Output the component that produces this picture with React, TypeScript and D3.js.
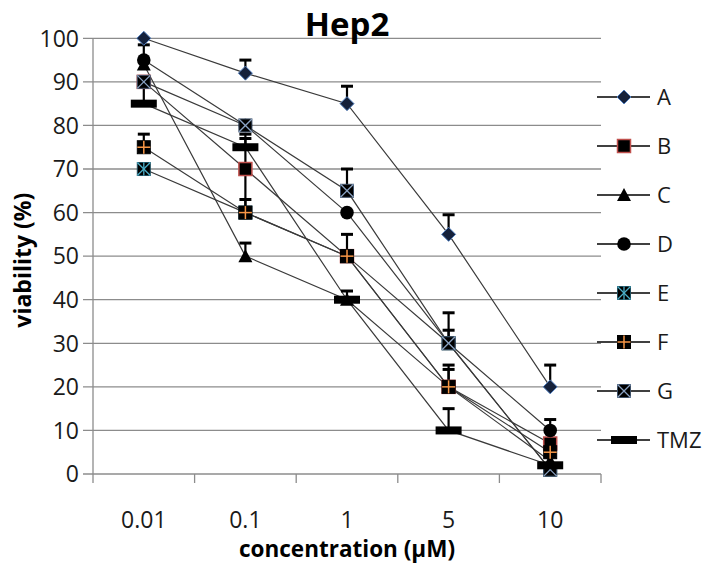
import React from "react";
import * as d3 from "d3";

const categories = ["0.01", "0.1", "1", "5", "10"];
const seriesNames = ["A", "B", "C", "D", "E", "F", "G", "TMZ"];

const valuesA = [100, 92, 85, 55, 20];
const valuesB = [90, 70, 50, 20, 7];
const valuesC = [94, 50, 40, 20, 3];
const valuesD = [95, 80, 60, 30, 10];
const valuesE = [70, 60, 50, 30, 1];
const valuesF = [75, 60, 50, 20, 5];
const valuesG = [90, 80, 65, 30, 1];
const valuesTMZ = [85, 75, 40, 10, 2];

const errA = [0, 3, 4, 4.5, 5];
const errB = [0, 7, 0, 4, 0];
const errC = [0, 3, 0, 0, 0];
const errD = [3.5, 0, 0, 3, 2.5];
const errE = [0, 3, 0, 0, 0];
const errF = [3, 10, 5, 5, 0];
const errG = [0, 0, 5, 7, 0];
const errTMZ = [5, 3, 2, 5, 0];

const yTicks = [0, 10, 20, 30, 40, 50, 60, 70, 80, 90, 100];

const allValues = [valuesA, valuesB, valuesC, valuesD, valuesE, valuesF, valuesG, valuesTMZ];
const allErr = [errA, errB, errC, errD, errE, errF, errG, errTMZ];

const W = 706;
const H = 564;
const plotLeft = 93;
const plotRight = 601;
const plotTop = 38.3;
const plotBottom = 474;
const FONT = "'Open Sans', 'Noto Sans', sans-serif";

function Marker({ name, x, y }: { name: string; x: number; y: number }) {
  const s = 6.5;
  switch (name) {
    case "A":
      return (
        <path
          d={`M${x},${y - 7}L${x + 7},${y}L${x},${y + 7}L${x - 7},${y}Z`}
          fill="#15213b"
          stroke="#4f7dbd"
          strokeWidth={1}
        />
      );
    case "B":
      return <rect x={x - s} y={y - s} width={2 * s} height={2 * s} fill="#000" stroke="#c0504d" strokeWidth={1.5} />;
    case "C":
      return <path d={`M${x},${y - 7}L${x + 7},${y + 6}L${x - 7},${y + 6}Z`} fill="#000" />;
    case "D":
      return <circle cx={x} cy={y} r={6.8} fill="#000" />;
    case "E":
      return (
        <g>
          <rect x={x - s} y={y - s} width={2 * s} height={2 * s} fill="#000" stroke="#1f4f5f" strokeWidth={1} />
          <g stroke="#4bacc6" strokeWidth={1.3}>
            <line x1={x} y1={y - s} x2={x} y2={y + s} />
            <line x1={x - s} y1={y - s} x2={x + s} y2={y + s} />
            <line x1={x + s} y1={y - s} x2={x - s} y2={y + s} />
          </g>
        </g>
      );
    case "F":
      return (
        <g>
          <rect x={x - s} y={y - s} width={2 * s} height={2 * s} fill="#000" stroke="#000" strokeWidth={1} />
          <g stroke="#f79646" strokeWidth={1.5}>
            <line x1={x} y1={y - s} x2={x} y2={y + s} />
            <line x1={x - s} y1={y} x2={x + s} y2={y} />
          </g>
        </g>
      );
    case "G":
      return (
        <g>
          <rect x={x - s} y={y - s} width={2 * s} height={2 * s} fill="#000" stroke="#3d4f66" strokeWidth={1} />
          <g stroke="#8aa2c2" strokeWidth={1.3}>
            <line x1={x - s} y1={y - s} x2={x + s} y2={y + s} />
            <line x1={x + s} y1={y - s} x2={x - s} y2={y + s} />
          </g>
        </g>
      );
    default:
      return <rect x={x - 13} y={y - 4} width={26} height={8} fill="#000" />;
  }
}

export default function App() {
  const x = d3.scaleBand<string>().domain(categories).range([plotLeft, plotRight]).padding(0);
  const y = d3.scaleLinear().domain([0, 100]).range([plotBottom, plotTop]);
  const cx = (c: string) => (x(c) as number) + x.bandwidth() / 2;

  const line = d3
    .line<number>()
    .x((_, i) => cx(categories[i]))
    .y((v) => y(v));

  const boundaries = categories.map((c) => x(c) as number).concat([plotRight]);

  const legendTop = 97;
  const legendStep = 49;

  return (
    <svg
      width={W}
      height={H}
      style={{ position: "absolute", left: 0, top: 0, background: "#fff" }}
      fontFamily={FONT}
    >
      <rect x={0} y={0} width={W} height={H} fill="#fff" />
      {/* gridlines */}
      {yTicks.map((t) => (
        <line key={"g" + t} x1={plotLeft - 10} x2={plotRight} y1={y(t)} y2={y(t)} stroke="#8c8c8c" strokeWidth={1.3} />
      ))}
      {/* y axis */}
      <line x1={plotLeft} x2={plotLeft} y1={plotTop} y2={plotBottom} stroke="#8c8c8c" strokeWidth={1.3} />
      {/* x ticks */}
      {boundaries.map((b, i) => (
        <line key={"xt" + i} x1={b} x2={b} y1={plotBottom} y2={plotBottom + 9} stroke="#8c8c8c" strokeWidth={1.3} />
      ))}
      {/* y tick labels */}
      {yTicks.map((t) => (
        <text key={"yl" + t} x={79} y={y(t)} dy="0.36em" textAnchor="end" fontSize={23} fill="#1a1a1a">
          {t}
        </text>
      ))}
      {/* x tick labels */}
      {categories.map((c) => (
        <text key={"xl" + c} x={cx(c)} y={528} textAnchor="middle" fontSize={23} fill="#1a1a1a">
          {c}
        </text>
      ))}
      {/* series lines */}
      {allValues.map((vals, si) => (
        <path key={"l" + si} d={line(vals) || ""} fill="none" stroke="#3a3a3a" strokeWidth={1.2} />
      ))}
      {/* error bars */}
      {allValues.map((vals, si) =>
        vals.map((v, i) => {
          const e = allErr[si][i];
          if (!e) return null;
          const px = cx(categories[i]);
          return (
            <g key={"e" + si + "-" + i}>
              <line x1={px} x2={px} y1={y(v)} y2={y(v + e)} stroke="#000" strokeWidth={2.2} />
              <line x1={px - 6} x2={px + 6} y1={y(v + e)} y2={y(v + e)} stroke="#000" strokeWidth={3} />
            </g>
          );
        })
      )}
      {/* markers */}
      {allValues.map((vals, si) =>
        vals.map((v, i) => (
          <Marker key={"m" + si + "-" + i} name={seriesNames[si]} x={cx(categories[i])} y={y(v)} />
        ))
      )}
      {/* legend */}
      {seriesNames.map((n, i) => {
        const ly = legendTop + i * legendStep;
        return (
          <g key={"lg" + n}>
            <line x1={597} x2={650} y1={ly} y2={ly} stroke="#000" strokeWidth={1.3} />
            <Marker name={n} x={624} y={ly} />
            <text x={657} y={ly} dy="0.36em" fontSize={22} fill="#1a1a1a">
              {n}
            </text>
          </g>
        );
      })}
      {/* title */}
      <text x={(plotLeft + plotRight) / 2} y={36} textAnchor="middle" fontSize={33} fontWeight="bold" fill="#000">
        Hep2
      </text>
      {/* axis titles */}
      <text
        transform={`translate(31, ${(plotTop + plotBottom) / 2 + 4}) rotate(-90)`}
        textAnchor="middle"
        fontSize={23}
        fontWeight="bold"
        fill="#000"
      >
        viability (%)
      </text>
      <text x={(plotLeft + plotRight) / 2} y={557} textAnchor="middle" fontSize={22.5} fontWeight="bold" fill="#000">
        concentration (µM)
      </text>
    </svg>
  );
}
